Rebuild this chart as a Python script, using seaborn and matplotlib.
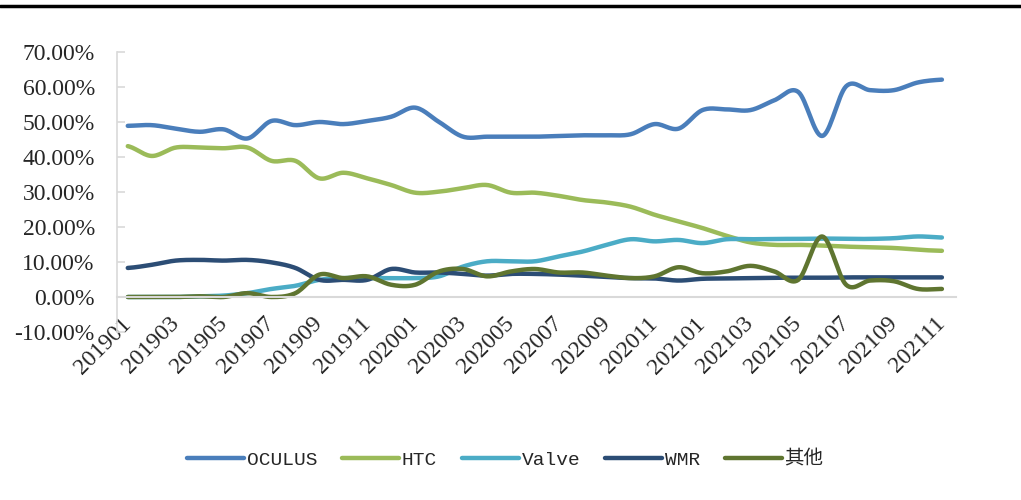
import numpy as np
import pandas as pd
import matplotlib
matplotlib.use("Agg")
import matplotlib.pyplot as plt
from matplotlib.lines import Line2D
import seaborn as sns

months = [f"{y}{m:02d}" for y in (2019, 2020, 2021) for m in range(1, 13)][:35]

oculus = [48.9, 49.1, 48.1, 47.2, 47.9, 45.3, 50.3, 49.1, 50.0, 49.4, 50.3, 51.5,
          54.1, 50.0, 45.8, 45.8, 45.8, 45.8, 46.0, 46.2, 46.2, 46.5, 49.4, 48.1,
          53.4, 53.6, 53.4, 56.2, 58.6, 46.0, 60.2, 59.1, 59.1, 61.3, 62.1]
htc = [43.1, 40.3, 42.7, 42.7, 42.5, 42.7, 38.9, 38.9, 33.9, 35.5, 33.9, 32.0,
       29.8, 30.1, 31.1, 32.0, 29.8, 29.8, 28.9, 27.7, 27.0, 25.8, 23.5, 21.6,
       19.7, 17.5, 15.6, 14.9, 14.9, 14.7, 14.4, 14.2, 14.0, 13.5, 13.2]
valve = [0.0, 0.0, 0.0, 0.2, 0.4, 1.1, 2.3, 3.2, 4.9, 5.4, 5.4, 5.4,
         5.4, 5.9, 8.7, 10.2, 10.2, 10.2, 11.6, 13.0, 14.9, 16.5, 15.9, 16.3,
         15.4, 16.5, 16.5, 16.6, 16.6, 16.7, 16.6, 16.6, 16.8, 17.3, 17.0]
wmr = [8.3, 9.2, 10.4, 10.6, 10.4, 10.6, 9.9, 8.3, 4.9, 4.9, 4.9, 8.0,
       7.0, 7.0, 6.6, 6.1, 6.6, 6.6, 6.4, 6.1, 5.7, 5.4, 5.3, 4.7,
       5.2, 5.3, 5.4, 5.5, 5.5, 5.5, 5.6, 5.6, 5.6, 5.6, 5.6]
other = [0.0, 0.0, 0.0, 0.2, 0.0, 1.1, 0.0, 1.1, 6.4, 5.4, 5.9, 3.5,
         3.5, 7.3, 8.0, 5.9, 7.3, 8.0, 7.0, 7.0, 6.1, 5.4, 5.9, 8.5,
         6.8, 7.3, 8.9, 7.3, 4.9, 17.3, 3.5, 4.7, 4.5, 2.3, 2.3]

names = ["OCULUS", "HTC", "Valve", "WMR", "其他"]
colors = ["#4A7EBB", "#9BBB59", "#4BACC6", "#2C4D75", "#5F7530"]


def smooth(ys, n=16):
    # Catmull-Rom curve through the points, like Excel's smoothed line
    ys = np.asarray(ys, dtype=float)
    p = np.concatenate([[ys[0]], ys, [ys[-1]]])
    xs, out = [], []
    t = np.linspace(0, 1, n, endpoint=False)
    for i in range(len(ys) - 1):
        p0, p1, p2, p3 = p[i], p[i + 1], p[i + 2], p[i + 3]
        seg = 0.5 * ((2 * p1) + (-p0 + p2) * t + (2 * p0 - 5 * p1 + 4 * p2 - p3) * t ** 2
                     + (-p0 + 3 * p1 - 3 * p2 + p3) * t ** 3)
        xs.extend(i + t)
        out.extend(seg)
    xs.append(len(ys) - 1)
    out.append(ys[-1])
    return np.array(xs), np.array(out)


rows = []
for name, vals in zip(names, [oculus, htc, valve, wmr, other]):
    xs, ys = smooth(vals)
    rows.append(pd.DataFrame({"x": xs, "share": ys / 100.0, "brand": name}))
df = pd.concat(rows, ignore_index=True)

sns.set_theme(style="white")
plt.rcParams["font.family"] = ["Liberation Serif", "Noto Sans CJK SC"]

fig = plt.figure(figsize=(10.21, 5.0), dpi=100)
ax = fig.add_axes([0.1146, 0.336, 0.822, 0.56])

sns.lineplot(data=df, x="x", y="share", hue="brand", palette=colors, hue_order=names,
             sort=False, estimator=None, linewidth=3.2, ax=ax, legend=False)

# spine position first: moving it resets the tick labels
for s in ["top", "right"]:
    ax.spines[s].set_visible(False)
ax.spines["bottom"].set_position(("data", 0))
ax.spines["bottom"].set_color("#D9D9D9")
ax.spines["bottom"].set_linewidth(1.5)
ax.spines["left"].set_color("#D9D9D9")
ax.spines["left"].set_linewidth(1.2)

ax.set_xlim(-0.45, 34.6)
ax.set_ylim(-0.10, 0.70)
yt = np.arange(-0.10, 0.701, 0.10)
ax.set_yticks(yt)
ax.set_yticklabels([f"{v * 100:.2f}%" for v in yt], fontsize=17)
ax.set_xticks(range(0, 35, 2))
ax.set_xticklabels(months[::2], fontsize=17, rotation=45, ha="right", va="center",
                   rotation_mode="anchor")
ax.tick_params(axis="x", length=0, pad=17)
ax.tick_params(axis="y", direction="in", length=6, color="#D9D9D9", width=1.2, pad=16, left=True)
ax.set_xlabel("")
ax.set_ylabel("")

handles = [Line2D([0], [0], color=c, lw=3.2, solid_capstyle="round") for c in colors]
fig.legend(handles, names, loc="center", bbox_to_anchor=(0.495, 0.08), ncol=5, frameon=False,
           prop={"family": ["Liberation Mono", "Noto Sans CJK SC"], "size": 14},
           handlelength=2.9, handletextpad=0.15, columnspacing=1.3)

fig.add_artist(Line2D([0, 1], [0.989, 0.989], color="black", lw=2.5, transform=fig.transFigure))

fig.savefig("out.png", dpi=100)
